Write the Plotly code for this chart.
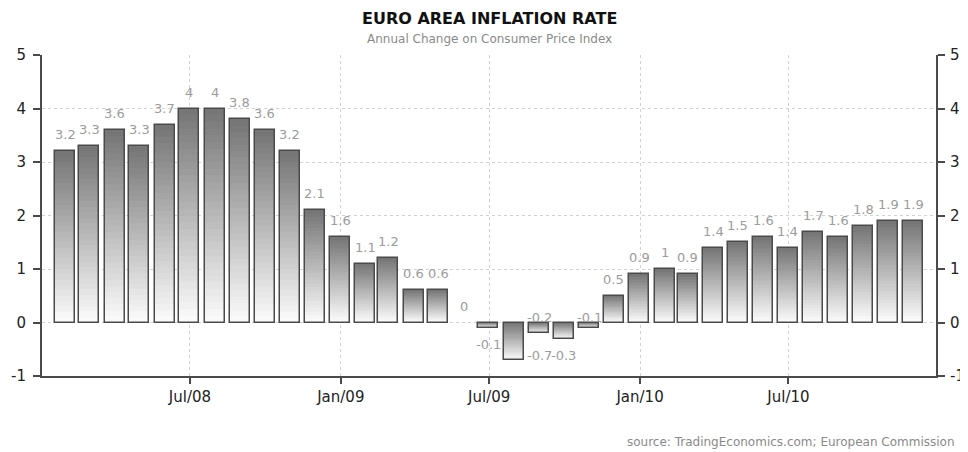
import plotly.graph_objects as go
import pandas as pd

# ---- data -------------------------------------------------------------
months = pd.date_range("2008-01-31", periods=35, freq="ME")  # monthly observations (month end)
inflation = [3.2, 3.3, 3.6, 3.3, 3.7, 4.0, 4.0, 3.8, 3.6, 3.2, 2.1, 1.6,
             1.1, 1.2, 0.6, 0.6, 0.0, -0.1, -0.7, -0.2, -0.3, -0.1, 0.5, 0.9,
             1.0, 0.9, 1.4, 1.5, 1.6, 1.4, 1.7, 1.6, 1.8, 1.9, 1.9]
value_labels = [f"{v:g}" for v in inflation]
x_tick_dates = ["2008-07-01", "2009-01-01", "2009-07-01", "2010-01-01", "2010-07-01"]
x_tick_labels = ["Jul/08", "Jan/09", "Jul/09", "Jan/10", "Jul/10"]
y_tick_values = [-1, 0, 1, 2, 3, 4, 5]
y_tick_labels = ["-1", "0", "1", "2", "3", "4", "5"]

title = "EURO AREA INFLATION RATE"
subtitle = "Annual Change on Consumer Price Index"
source = "source: TradingEconomics.com; European Commission"

# label placement style overrides (index -> style)
label_style = {19: "zero", 21: "zero", 18: "right"}

# ---- style ------------------------------------------------------------
FONT = "DejaVu Sans"
BAR_W = 24.4 * 86400000  # ms
N_LAYERS = 32
DARK = (118, 118, 118)
LIGHT = (250, 250, 250)

fig = go.Figure()

bases = [min(v, 0) for v in inflation]
heights = [abs(v) if v != 0 else None for v in inflation]

# gradient fill: stacked overlay layers, darkest on top of each bar
for i in range(N_LAYERS):
    frac = 1 - i / N_LAYERS
    t = i / (N_LAYERS - 1)
    c = tuple(round(DARK[k] + (LIGHT[k] - DARK[k]) * t) for k in range(3))
    fig.add_trace(go.Bar(
        x=months, y=[h * frac if h else None for h in heights], base=bases, width=BAR_W,
        marker=dict(color=f"rgb{c}", line=dict(width=0)),
        hoverinfo="skip", showlegend=False,
    ))

# outline
fig.add_trace(go.Bar(
    x=months, y=heights, base=bases, width=BAR_W,
    marker=dict(color="rgba(0,0,0,0)", line=dict(color="#4a4a4a", width=1.5)),
    hovertemplate="%{x|%b %Y}: %{customdata}<extra></extra>",
    customdata=inflation, showlegend=False,
))

# invisible trace on the right axis so it is rendered
fig.add_trace(go.Scatter(x=[months[0]], y=[None], yaxis="y2", showlegend=False,
                         hoverinfo="skip", mode="markers"))

annotations = []
for i, (d, v, txt) in enumerate(zip(months, inflation, value_labels)):
    style = label_style.get(i, "above" if v >= 0 else "below")
    a = dict(x=d, y=v, text=txt, showarrow=False, xref="x", yref="y",
             font=dict(family=FONT, size=13, color="#9c9c9c"))
    if style == "above":
        a.update(yanchor="bottom", yshift=7)
    elif style == "below":
        a.update(yanchor="top", yshift=-7)
    elif style == "zero":
        a.update(y=0, yanchor="bottom", yshift=-4)
    elif style == "right":
        a.update(xanchor="left", xshift=11, yanchor="middle", yshift=4)
    annotations.append(a)

annotations += [
    dict(text=f"<b>{title}</b>", x=0.5, y=1.1137, xref="paper", yref="paper",
         xanchor="center", yanchor="middle", showarrow=False, borderpad=0,
         font=dict(family=FONT, size=16, color="#111111")),
    dict(text=subtitle, x=0.5, y=1.05, xref="paper", yref="paper",
         xanchor="center", yanchor="middle", showarrow=False,
         font=dict(family=FONT, size=12, color="#8a8a8a")),
    dict(text=source, x=1.0235, y=-0.206, xref="paper", yref="paper",
         xanchor="right", yanchor="middle", showarrow=False,
         font=dict(family=FONT, size=12, color="#8a8a8a")),
]

axis_common = dict(
    showline=True, linecolor="#4a4a4a", linewidth=2,
    ticks="outside", ticklen=7, tickwidth=2, tickcolor="#4a4a4a",
    showgrid=True, gridcolor="#d2d2d2", griddash="3px,3px", gridwidth=1,
    zeroline=False, automargin=False,
)

# the page body adds an 8px margin, so the figure is 8px smaller than the window
fig.update_layout(
    width=960, height=444,
    margin=dict(l=34, r=32, t=47, b=76),
    paper_bgcolor="white", plot_bgcolor="white",
    barmode="overlay", bargap=0,
    showlegend=False,
    annotations=annotations,
    xaxis=dict(
        type="date", range=["2008-01-02 12:00", "2010-12-28"],
        tickvals=x_tick_dates, ticktext=x_tick_labels,
        tickfont=dict(family=FONT, size=15, color="#222222"),
        **{**axis_common, "ticklen": 6},
    ),
    yaxis=dict(
        range=[-1, 5], tickvals=y_tick_values, ticktext=y_tick_labels,
        tickfont=dict(family=FONT, size=15, color="#222222"),
        ticklabelstandoff=4,
        **axis_common,
    ),
    yaxis2=dict(
        range=[-1, 5], tickvals=y_tick_values, ticktext=y_tick_labels,
        overlaying="y", side="right",
        tickfont=dict(family=FONT, size=15, color="#222222"),
        ticklabelstandoff=2,
        **{**axis_common, "showgrid": False},
    ),
)

fig.write_html("out.html")
